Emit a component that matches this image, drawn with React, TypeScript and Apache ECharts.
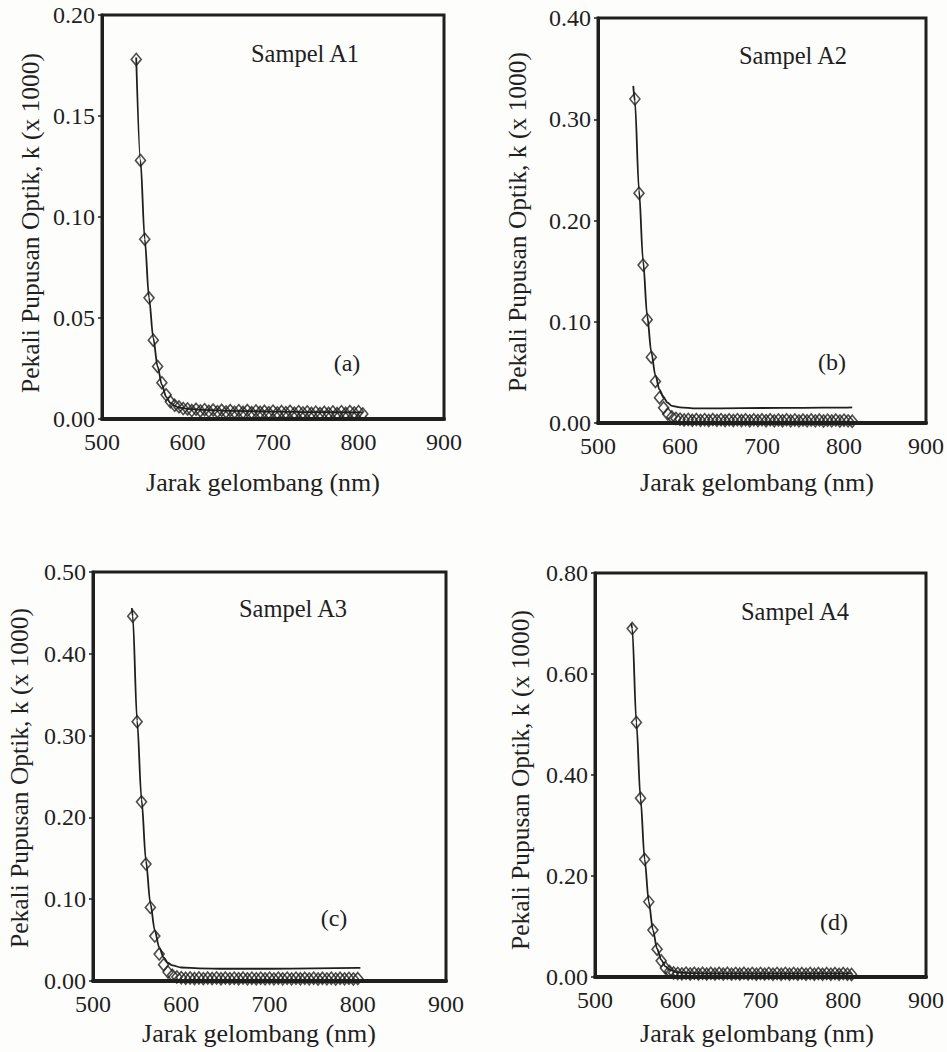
import React, { useEffect, useRef } from "react";
import * as echarts from "echarts";

// Wavelength grid of the measured points (nm)
const WL = [
  540, 545, 550, 555, 560, 565, 570, 575, 580, 585, 590, 595, 600, 605, 610, 615, 620, 625, 630, 635,
  640, 645, 650, 655, 660, 665, 670, 675, 680, 685, 690, 695, 700, 705, 710, 715, 720, 725, 730, 735,
  740, 745, 750, 755, 760, 765, 770, 775, 780, 785, 790, 795, 800, 805, 810,
];

// Measured k (x1000), diamonds
const A1_K = [
  0.178, 0.128, 0.089, 0.06, 0.039, 0.026, 0.018, 0.012, 0.0085, 0.0068, 0.006, 0.0052, 0.005, 0.0042, 0.0048, 0.004, 0.0046, 0.0038, 0.0044, 0.0036,
  0.0043, 0.0035, 0.0042, 0.0034, 0.0041, 0.0033, 0.0042, 0.0032, 0.004, 0.0033, 0.0038, 0.0031, 0.0039, 0.003, 0.0037, 0.0031, 0.0038, 0.0029, 0.0036, 0.003,
  0.0035, 0.0028, 0.0034, 0.0027, 0.0033, 0.0028, 0.0035, 0.0027, 0.0036, 0.0028, 0.0037, 0.003, 0.0036, 0.0025, null,
];
const A2_K = [
  null, 0.32, 0.227, 0.156, 0.102, 0.065, 0.041, 0.025, 0.015, 0.009, 0.006, 0.0045, 0.0038, 0.003, 0.0035, 0.0027, 0.0034, 0.0026, 0.0033, 0.0025,
  0.0034, 0.0026, 0.0033, 0.0024, 0.0032, 0.0025, 0.0033, 0.0024, 0.0032, 0.0023, 0.0031, 0.0024, 0.0032, 0.0023, 0.0031, 0.0022, 0.003, 0.0023, 0.0031, 0.0022,
  0.003, 0.0021, 0.0029, 0.0022, 0.003, 0.0021, 0.0029, 0.002, 0.0028, 0.0021, 0.0029, 0.002, 0.0028, 0.0021, 0.0018,
];
const A3_K = [
  null, 0.446, 0.317, 0.219, 0.143, 0.09, 0.055, 0.033, 0.02, 0.011, 0.007, 0.005, 0.004, 0.0033, 0.0038, 0.003, 0.0037, 0.0029, 0.0036, 0.003,
  0.0037, 0.0028, 0.0036, 0.0029, 0.0035, 0.0028, 0.0036, 0.0027, 0.0035, 0.0028, 0.0034, 0.0027, 0.0035, 0.0026, 0.0034, 0.0027, 0.0035, 0.0026, 0.0034, 0.0027,
  0.0033, 0.0026, 0.0034, 0.0025, 0.0033, 0.0026, 0.0034, 0.0025, 0.0033, 0.0026, 0.0032, 0.0025, 0.003, null, null,
];
const A4_K = [
  null, 0.69, 0.504, 0.354, 0.233, 0.149, 0.093, 0.055, 0.032, 0.018, 0.011, 0.008, 0.007, 0.0062, 0.0075, 0.006, 0.0074, 0.0059, 0.0073, 0.0058,
  0.0072, 0.0059, 0.0073, 0.0058, 0.0072, 0.0057, 0.0071, 0.0058, 0.0072, 0.0057, 0.0071, 0.0056, 0.007, 0.0057, 0.0071, 0.0056, 0.007, 0.0055, 0.0071, 0.0056,
  0.007, 0.0055, 0.0069, 0.0056, 0.007, 0.0055, 0.0069, 0.0054, 0.0068, 0.0055, 0.0069, 0.0054, 0.0068, 0.0055, 0.005,
];

// Fitted curves
const A1_FIT_WL = [540, 545, 550, 555, 560, 565, 570, 575, 580, 585, 590, 600, 620, 650, 700, 750, 800, 805];
const A1_FIT_K = [0.179, 0.128, 0.089, 0.06, 0.04, 0.026, 0.017, 0.011, 0.008, 0.0065, 0.0057, 0.005, 0.0045, 0.004, 0.0037, 0.0034, 0.0033, 0.0033];
const A2_FIT_WL = [543, 545, 550, 555, 560, 565, 570, 575, 580, 585, 590, 600, 620, 650, 700, 750, 800, 810];
const A2_FIT_K = [0.333, 0.318, 0.23, 0.16, 0.106, 0.07, 0.047, 0.033, 0.025, 0.02, 0.017, 0.0155, 0.0145, 0.0145, 0.0148, 0.015, 0.0152, 0.0155];
const A3_FIT_WL = [544, 545, 550, 555, 560, 565, 570, 575, 580, 585, 590, 600, 620, 650, 700, 750, 800, 803];
const A3_FIT_K = [0.456, 0.446, 0.318, 0.222, 0.147, 0.095, 0.062, 0.041, 0.029, 0.022, 0.019, 0.0165, 0.0155, 0.015, 0.015, 0.0155, 0.016, 0.016];
const A4_FIT_WL = [544, 545, 550, 555, 560, 565, 570, 575, 580, 585, 590, 600, 620, 650, 700, 750, 800, 810];
const A4_FIT_K = [0.7, 0.69, 0.504, 0.354, 0.233, 0.149, 0.093, 0.056, 0.034, 0.021, 0.014, 0.009, 0.0075, 0.007, 0.007, 0.007, 0.007, 0.007];

const SAMPLE_NAMES = ["Sampel A1", "Sampel A2", "Sampel A3", "Sampel A4"];
const PANEL_TAGS = ["(a)", "(b)", "(c)", "(d)"];
const Y_MAX = [0.2, 0.4, 0.5, 0.8];
const Y_STEP = [0.05, 0.1, 0.1, 0.2];
const X_TITLE = "Jarak gelombang (nm)";
const Y_TITLE = "Pekali Pupusan Optik, k (x 1000)";

const MEASURED = [A1_K, A2_K, A3_K, A4_K];
const FIT_WL = [A1_FIT_WL, A2_FIT_WL, A3_FIT_WL, A4_FIT_WL];
const FIT_K = [A1_FIT_K, A2_FIT_K, A3_FIT_K, A4_FIT_K];

const GRIDS = [
  { left: 102, top: 15, width: 342, height: 404 },
  { left: 598, top: 18, width: 334, height: 405 },
  { left: 93, top: 572, width: 353, height: 409 },
  { left: 595, top: 573, width: 341, height: 404 },
];
const SAMPLE_POS = [[305, 53], [793, 55], [293, 608], [795, 611]];
const TAG_POS = [[347, 363], [832, 362], [334, 918], [834, 922]];
const XT_POS = [[263, 482], [757, 482], [259, 1033], [757, 1033]];
const YT_POS = [[30, 223], [517, 222], [19, 778], [520, 780]];

const INK = "#1f1f1f";
const FONT = "'Liberation Serif', 'DejaVu Serif', serif";

export default function App() {
  const ref = useRef<HTMLDivElement>(null);
  useEffect(() => {
    if (!ref.current) return;
    const chart = echarts.init(ref.current, undefined, { renderer: "svg" });
    const grid: any[] = [];
    const xAxis: any[] = [];
    const yAxis: any[] = [];
    const series: any[] = [];
    const graphic: any[] = [];
    for (let i = 0; i < 4; i++) {
      grid.push({ ...GRIDS[i], show: true, borderColor: INK, borderWidth: 3, backgroundColor: "transparent" });
      xAxis.push({
        type: "value", gridIndex: i, min: 500, max: 900, interval: 100,
        axisLine: { show: true, onZero: false, lineStyle: { color: INK, width: 4 } },
        axisTick: { show: false }, splitLine: { show: false },
        axisLabel: { color: INK, fontFamily: FONT, fontSize: 24, margin: 11 },
      });
      yAxis.push({
        type: "value", gridIndex: i, min: 0, max: Y_MAX[i], interval: Y_STEP[i],
        axisLine: { show: true, lineStyle: { color: INK, width: 3 } },
        axisTick: { show: true, inside: false, length: 4, lineStyle: { color: INK, width: 1.5 } },
        splitLine: { show: false },
        axisLabel: { color: INK, fontFamily: FONT, fontSize: 24, margin: 7, formatter: (v: number) => v.toFixed(2) },
      });
      const fit = FIT_WL[i].map((w, j) => [w, FIT_K[i][j]]);
      series.push({
        type: "line", xAxisIndex: i, yAxisIndex: i, data: fit, showSymbol: false, symbol: "none",
        smooth: 0.3, smoothMonotone: "x", lineStyle: { color: INK, width: 1.8 }, z: 2, silent: true,
      });
      const pts: number[][] = [];
      WL.forEach((w, j) => { const v = MEASURED[i][j]; if (v !== null && v !== undefined) pts.push([w, v]); });
      series.push({
        type: "scatter", xAxisIndex: i, yAxisIndex: i, data: pts, symbol: "diamond", symbolSize: [10, 12],
        itemStyle: { color: "rgba(255,255,255,0)", borderColor: INK, borderWidth: 1.6 }, z: 3, silent: true,
      });
      graphic.push({
        type: "text", x: SAMPLE_POS[i][0], y: SAMPLE_POS[i][1],
        style: { text: SAMPLE_NAMES[i], fontFamily: FONT, fontSize: 24.5, fill: INK, align: "center", verticalAlign: "middle" },
      });
      graphic.push({
        type: "text", x: TAG_POS[i][0], y: TAG_POS[i][1],
        style: { text: PANEL_TAGS[i], fontFamily: FONT, fontSize: 24, fill: INK, align: "center", verticalAlign: "middle" },
      });
      graphic.push({
        type: "text", x: XT_POS[i][0], y: XT_POS[i][1],
        style: { text: X_TITLE, fontFamily: FONT, fontSize: 26, fill: INK, align: "center", verticalAlign: "middle" },
      });
      graphic.push({
        type: "text", x: YT_POS[i][0], y: YT_POS[i][1], rotation: Math.PI / 2,
        style: { text: Y_TITLE, fontFamily: FONT, fontSize: 25.5, fill: INK, align: "center", verticalAlign: "middle" },
      });
    }
    chart.setOption({ animation: false, backgroundColor: "#fdfdfc", grid, xAxis, yAxis, series, graphic });
    return () => chart.dispose();
  }, []);
  return <div ref={ref} style={{ position: "absolute", left: 0, top: 0, width: 947, height: 1052 }} />;
}
